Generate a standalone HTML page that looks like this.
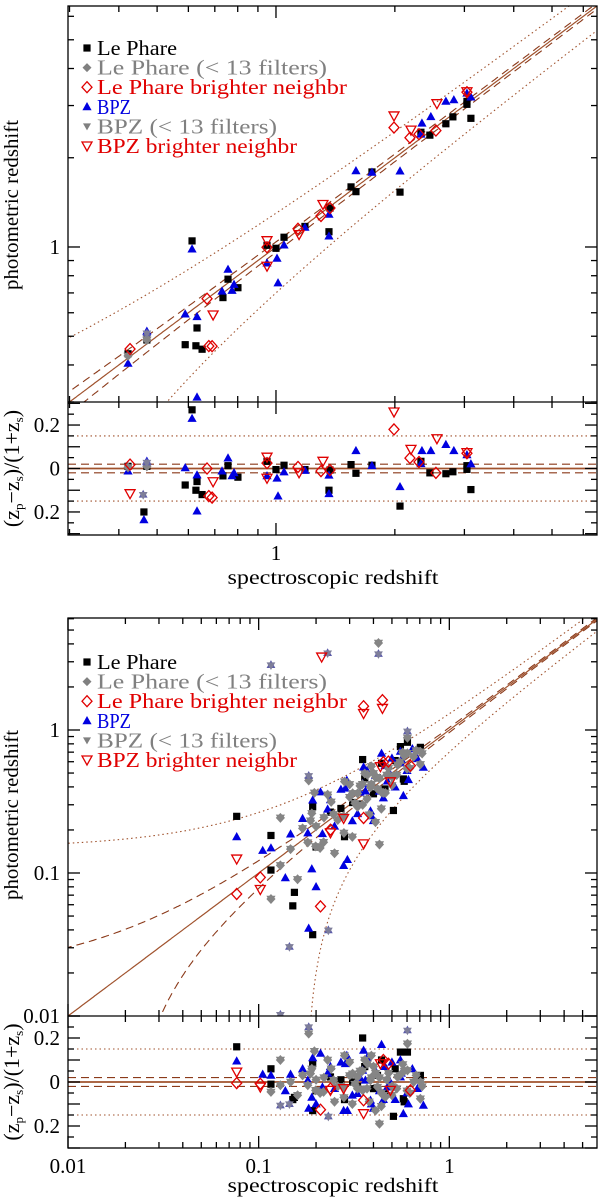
<!DOCTYPE html>
<html><head><meta charset="utf-8"><style>
html,body{margin:0;padding:0;background:#fff;overflow:hidden;width:600px;height:1203px;}
svg{display:block;font-family:"Liberation Serif",serif;overflow:hidden;}
</style></head><body>
<svg id="chart" width="600" height="1203" viewBox="0 0 600 1203" xmlns="http://www.w3.org/2000/svg">
<defs>
<clipPath id="c1"><rect x="68" y="6" width="529" height="396"/></clipPath>
<clipPath id="c2"><rect x="68" y="402" width="529" height="133"/></clipPath>
<clipPath id="c3"><rect x="68" y="618" width="529" height="398"/></clipPath>
<clipPath id="c4"><rect x="68" y="1016" width="529" height="132"/></clipPath>
</defs>
<g id="layer"></g>
</svg>
<script>
// ===== Top panel data (spectroscopic z, residual dz=(zp-zs)/(1+zs)) =====
var t_lp_zs = [0.422,0.471,0.463,0.589,0.613,0.631,0.627,0.650,0.734,0.756,0.801,0.949,1.0,1.048,1.184,1.362,1.370,1.549,1.594,1.750,2.061,2.328,2.453,2.693,2.805,3.045,3.116,3.045];
var t_lp_dz = [0.01,0.01,-0.2,-0.076,0.27,-0.06,-0.10,-0.12,-0.034,0.013,-0.04,0.033,-0.005,0.015,-0.005,-0.10,-0.007,0.018,-0.022,0.015,-0.173,0.033,-0.02,-0.024,-0.015,-0.004,-0.097,0.013];
var t_bpz_zs = [0.422,0.471,0.463,0.589,0.613,0.631,0.631,0.730,0.756,0.774,0.783,0.949,1.006,1.012,1.048,1.184,1.362,1.362,1.594,1.750,2.061,2.328,2.342,2.467,2.693,2.821,3.045,3.116];
var t_bpz_dz = [-0.012,0.033,-0.236,0.003,0.23,-0.03,-0.196,-0.012,0.048,-0.034,-0.02,-0.034,-0.045,-0.127,-0.016,-0.009,-0.031,-0.116,0.082,0.013,-0.084,0.022,0.082,0.082,0.11,0.082,0.063,0.021];
var t_lpn_zs = [0.427,0.669,0.676,0.689,0.949,1.137,1.300,1.370,1.990,2.184,2.302,2.541,3.045];
var t_lpn_dz = [0.018,0,-0.127,-0.134,0.025,0.007,-0.012,-0.007,0.18,0.048,0.03,-0.02,0.07];
var t_bpzn_zs = [0.427,0.693,0.949,0.949,1.144,1.315,1.990,2.197,2.556,3.045];
var t_bpzn_dz = [-0.116,-0.061,0.052,-0.045,-0.02,0.033,0.26,0.088,0.137,0.073];
var t_gray_zs = [0.422,0.471];
var t_gray_dz = [0.005,0.01];
var t_star_zs = [0.461,0.471];
var t_star_dz = [-0.12,0.028];
// ===== Bottom panel data =====
var b_lp_zs = [0.0767,0.116,0.116,0.151,0.154,0.192,0.192,0.351,0.282,0.311,0.554,0.603,0.509,0.705,0.574,0.441,0.400,0.238,0.27,0.33,0.42,0.46,0.52,0.58,0.2,0.36];
var b_lp_dz = [0.16,0.06,-0.01,-0.08,-0.07,0.083,-0.13,0.2,-0.08,0,0.136,0.136,-0.156,0.03,-0.076,0.1,-0.03,0.023,0.01,-0.02,0.03,-0.05,0.06,-0.09,-0.04,0.07];
var b_bpz_zs = [0.0767,0.105,0.116,0.138,0.147,0.183,0.192,0.211,0.238,0.279,0.292,0.285,0.355,0.351,0.386,0.441,0.554,0.574,0.610,0.731,0.554,0.451,0.330,0.216,0.181,0.473,0.363,0.17,0.19,0.23,0.25,0.27,0.31,0.34,0.37,0.39,0.41,0.43,0.46,0.49,0.52,0.56,0.6,0.64,0.68,0.2,0.29,0.4,0.5];
var b_bpz_dz = [0.095,0.035,0.03,-0.04,0.035,-0.12,0.11,0.13,0.07,-0.13,-0.13,0.083,0.144,0.053,-0.083,0.17,0.1,-0.144,-0.1,-0.106,0.023,-0.08,-0.053,-0.023,0.008,-0.023,0.008,0.06,-0.07,0.04,-0.03,0.09,-0.06,0.02,0.11,-0.1,0.05,-0.04,0.07,0.0,-0.08,0.04,-0.05,0.06,-0.03,-0.1,0.12,-0.12,0.09];
var b_gray_zs = [0.130,0.130,0.116,0.147,0.183,0.196,0.181,0.199,0.219,0.282,0.279,0.330,0.351,0.386,0.420,0.430,0.410,0.462,0.603,0.603,0.705,0.705,0.535,0.311,0.247,0.372,0.187,0.2,0.26,0.3,0.32,0.34,0.37,0.39,0.41,0.44,0.47,0.5,0.55,0.6,0.65,0.16,0.22,0.425,0.17,0.21,0.24,0.28,0.3,0.33,0.35,0.38,0.4,0.43,0.45,0.48,0.53,0.57,0.62,0.67,0.72,0.25,0.36,0.44,0.5,0.58,0.19,0.23,0.31,0.39];
var b_gray_dz = [0.1,-0.015,-0.045,0,0.22,0.14,-0.015,-0.038,-0.045,0.12,-0.023,0.023,-0.038,0.008,-0.023,-0.19,-0.13,-0.068,0.174,0.053,-0.076,0,0.023,0.038,0.008,0.083,0.038,0.01,-0.02,0.03,-0.01,0.05,-0.03,0.02,0.04,-0.05,0.01,-0.02,0.03,-0.04,0.0,-0.06,0.02,2.55,0.03,-0.05,0.06,-0.07,0.09,-0.03,0.05,-0.09,0.07,0.02,-0.06,0.04,-0.03,0.08,-0.05,0.03,-0.02,-0.09,0.1,-0.11,-0.06,0.05,0.06,0.1,-0.1,0.12];
var b_star_zs = [0.130,0.183,0.232,0.603,0.116,0.230,0.425,0.145];
var b_star_dz = [-0.106,0.25,-0.156,0.235,2.45,2.62,2.09,-0.1];
var b_lpn_zs = [0.0767,0.102,0.211,0.355,0.479,0.451,0.238,0.625,0.355,0.446];
var b_lpn_dz = [-0.005,-0.008,-0.126,-0.083,0.083,0.1,-0.03,-0.038,0.82,0.81];
var b_bpzn_zs = [0.0767,0.102,0.238,0.355,0.279,0.491,0.435,0.214,0.355,0.446];
var b_bpzn_dz = [0.045,-0.023,-0.038,-0.144,-0.03,-0.038,0.083,2.49,0.70,0.67];
var legendLabels = ["Le Phare","Le Phare (< 13 filters)","Le Phare brighter neighbr","BPZ","BPZ (< 13 filters)","BPZ brighter neighbr"];
var legendColors = ["#000","#808080","#e00000","#0000e0","#808080","#e00000"];

var NS="http://www.w3.org/2000/svg";
var layer=document.getElementById('layer');
function el(tag,attrs,parent){var e=document.createElementNS(NS,tag);for(var k in attrs)e.setAttribute(k,attrs[k]);(parent||layer).appendChild(e);return e;}
function logScale(d0,d1,r0,r1){var a=Math.log10(d0),b=Math.log10(d1);return function(v){return r0+(Math.log10(v)-a)/(b-a)*(r1-r0);};}
function linScale(d0,d1,r0,r1){return function(v){return r0+(v-d0)/(d1-d0)*(r1-r0);};}

var panels=[
 {x0:68,x1:597,y0:6,y1:402,clip:'c1',X:logScale(0.3,6.5,69.5,597),Y:logScale(0.3,6.5,402,6),R:linScale(-0.306,0.306,535,402),ry0:402,ry1:535,rclip:'c2',dmin:0.3,dmax:6.5,name:'top'},
 {x0:68,x1:597,y0:618,y1:1016,clip:'c3',X:logScale(0.01,5.95,68,597),Y:logScale(0.01,6.07,1016,618),R:linScale(-0.3,0.3,1148,1016),ry0:1016,ry1:1148,rclip:'c4',dmin:0.01,dmax:6.07,name:'bottom'}
];
var brown='#a0522d',dbrown='#8b3a1a';

function refLines(p){
  var g=el('g',{'clip-path':'url(#'+p.clip+')'});
  
  
  var specs=[[0,brown,'',1.2],[0.02,dbrown,'8,5',1.1],[-0.02,dbrown,'8,5',1.1],[0.15,brown,'1.5,3',1.1],[-0.15,brown,'1.5,3',1.1]];
  specs.forEach(function(s){
    var pts=[];
    for(var i=0;i<=400;i++){var z=Math.pow(10,Math.log10(p.dmin*0.95)+i/400*(Math.log10(p.dmax*1.05)-Math.log10(p.dmin*0.95)));
      var zp=z+s[0]*(1+z); if(zp<=1e-5) continue;
      var yy=p.Y(zp); if(yy<p.y0-20||yy>p.y1+20) continue;
      pts.push(Math.max(p.x0-5,Math.min(p.x1+5,p.X(z))).toFixed(1)+','+yy.toFixed(1));}
    var l=el('polyline',{points:pts.join(' '),fill:'none',stroke:s[1],'stroke-width':s[3],'stroke-dasharray':s[2]},g);
    
    
  });
  var g2=el('g',{'clip-path':'url(#'+p.rclip+')'});
  
  
  specs.forEach(function(s){
    var l=el('line',{x1:p.x0,x2:p.x1,y1:p.R(s[0]),y2:p.R(s[0]),stroke:s[1],'stroke-width':s[3]+(s[0]===0?0.6:0),'stroke-dasharray':s[2]},g2);
    
    
  });
}

function marker(type,x,y,g){
  var e;
  if(type==='sq'){e=el('rect',{x:x-3.6,y:y-3.6,width:7.2,height:7.2,fill:'#000'},g);}
  else if(type==='tri'){e=el('polygon',{points:(x)+','+(y-4.8)+' '+(x-4.6)+','+(y+3.4)+' '+(x+4.6)+','+(y+3.4),fill:'#0000e0'},g);}
  else if(type==='dia'){e=el('polygon',{points:x+','+(y-5.5)+' '+(x+5)+','+y+' '+x+','+(y+5.5)+' '+(x-5)+','+y,fill:'none',stroke:'#e00000','stroke-width':1.3},g);}
  else if(type==='dtri'){e=el('polygon',{points:(x-5)+','+(y-4)+' '+(x+5)+','+(y-4)+' '+x+','+(y+5),fill:'none',stroke:'#e00000','stroke-width':1.3},g);}
  else if(type==='gray'){e=el('g',{},g);
    el('polygon',{points:x+','+(y-5)+' '+(x+4.6)+','+y+' '+x+','+(y+5)+' '+(x-4.6)+','+y,fill:'#858585'},e);
    el('polygon',{points:(x-4.6)+','+(y-3.2)+' '+(x+4.6)+','+(y-3.2)+' '+x+','+(y+4.8),fill:'#858585'},e);}
  else if(type==='star'){e=el('g',{},g);
    el('polygon',{points:(x)+','+(y-4.8)+' '+(x-4.4)+','+(y+3)+' '+(x+4.4)+','+(y+3),fill:'#5c5ca8'},e);
    el('polygon',{points:(x-4.4)+','+(y-2.6)+' '+(x+4.4)+','+(y-2.6)+' '+x+','+(y+5),fill:'#7e7e9a'},e);}
  return e;
}

function series(p,type,zs,dz,label){
  var g=el('g',{'clip-path':'url(#'+p.clip+')'});
  
  
  var g2=el('g',{'clip-path':'url(#'+p.rclip+')'});
  
  
  for(var i=0;i<zs.length;i++){
    var zp=zs[i]+dz[i]*(1+zs[i]);
    if(zp>0){var yy=p.Y(zp);
      if(yy>p.y0-6&&yy<p.y1+6){var m=marker(type,p.X(zs[i]),yy,g);
      
      }}
    var ry=p.R(dz[i]);
    if(ry>p.ry0-6&&ry<p.ry1+6){var r=marker(type,p.X(zs[i]),ry,g2);
    
    }
  }
}

function axes(p){
  var g=el('g',{stroke:'#000','stroke-width':1.3,fill:'none'});
  
  
  el('rect',{x:p.x0,y:p.y0,width:p.x1-p.x0,height:p.ry1-p.y0},g);
  el('line',{x1:p.x0,x2:p.x1,y1:p.y1,y2:p.y1},g);
  var d0=Math.floor(Math.log10(p.dmin)),d1=Math.ceil(Math.log10(p.dmax));
  for(var d=d0;d<=d1;d++)for(var m=1;m<=9;m++){
    var v=m*Math.pow(10,d); if(v<p.dmin*0.999||v>p.dmax*1.001)continue;
    var L=(m===1)?12:6,x=p.X(v),y=p.Y(v);
    if(x>=p.x0-0.5&&x<=p.x1+0.5){
      el('line',{x1:x,x2:x,y1:p.y0,y2:p.y0+L},g);
      el('line',{x1:x,x2:x,y1:p.y1,y2:p.y1-L},g);
      el('line',{x1:x,x2:x,y1:p.y1,y2:p.y1+L},g);
      el('line',{x1:x,x2:x,y1:p.ry1,y2:p.ry1-L},g);}
    if(y>=p.y0-0.5&&y<=p.y1+0.5){
      el('line',{x1:p.x0,x2:p.x0+L,y1:y,y2:y},g);
      el('line',{x1:p.x1,x2:p.x1-L,y1:y,y2:y},g);}
  }
  for(var k=-6;k<=6;k++){var r=k*0.05,y2=p.R(r); if(y2<p.ry0||y2>p.ry1)continue;
    var L2=(k%2===0)?12:6;
    el('line',{x1:p.x0,x2:p.x0+L2,y1:y2,y2:y2},g);
    el('line',{x1:p.x1,x2:p.x1-L2,y1:y2,y2:y2},g);}
}

function txt(s,attrs,name){var t=el('text',attrs);t.textContent=s;
  
  return t;}

function labels(p,ylabels,xlabels,ycenter,xlabY){
  ylabels.forEach(function(v){txt(String(v),{x:p.x0-8,y:p.Y(v)+7,'text-anchor':'end','font-size':21},'y-tick-label');});
  xlabels.forEach(function(v){txt(String(v),{x:p.X(v),y:p.ry1+25,'text-anchor':'middle','font-size':21},'x-tick-label');});
  [0.2,0,-0.2].forEach(function(v){txt(v===0?'0':'0.2',{x:p.x0-8,y:p.R(v)+7,'text-anchor':'end','font-size':21},'residual-tick-label');});
  txt('spectroscopic redshift',{x:333,y:xlabY,'text-anchor':'middle','font-size':20,textLength:211,lengthAdjust:'spacingAndGlyphs'},'x-axis-title');
  txt('photometric redshift',{x:0,y:0,transform:'translate(18,'+ycenter+') rotate(-90)','text-anchor':'middle','font-size':20,textLength:170,lengthAdjust:'spacingAndGlyphs'},'y-axis-title');
  var rc=(p.ry0+p.ry1)/2;
  var t=el('text',{transform:'translate(19,'+rc+') rotate(-90)','text-anchor':'middle','font-size':22});
  
  
  t.innerHTML='(z<tspan font-size="13" dy="4">p</tspan><tspan dy="-4">−z</tspan><tspan font-size="13" dy="4">s</tspan><tspan dy="-4">)/(1+z</tspan><tspan font-size="13" dy="4">s</tspan><tspan dy="-4">)</tspan>';
}

function legend(p,y0){
  var g=el('g',{});
  
  
  var types=['sq','gray','dia','tri','gtri','dtri'];
  for(var i=0;i<legendLabels.length;i++){
    var y=y0+i*19.6,x=87;
    if(types[i]==='gtri'){el('polygon',{points:(x-4)+','+(y-3)+' '+(x+4)+','+(y-3)+' '+x+','+(y+4),fill:'#808080'},g);}
    else if(types[i]==='gray'){el('polygon',{points:x+','+(y-4.5)+' '+(x+4.5)+','+y+' '+x+','+(y+4.5)+' '+(x-4.5)+','+y,fill:'#808080'},g);}
    else {marker(types[i],x,y,g);}
    var w=legendLabels[i].length*10; if(legendLabels[i]==='BPZ') w=34;
    var t=el('text',{x:97,y:y+7,'font-size':21,fill:legendColors[i],textLength:w,lengthAdjust:'spacingAndGlyphs'},g);
    t.textContent=legendLabels[i];
    
    
  }
}

var sets=[
 [t_lp_zs,t_lp_dz,t_gray_zs,t_gray_dz,t_lpn_zs,t_lpn_dz,t_bpz_zs,t_bpz_dz,t_star_zs,t_star_dz,t_bpzn_zs,t_bpzn_dz],
 [b_lp_zs,b_lp_dz,b_gray_zs,b_gray_dz,b_lpn_zs,b_lpn_dz,b_bpz_zs,b_bpz_dz,b_star_zs,b_star_dz,b_bpzn_zs,b_bpzn_dz]
];
panels.forEach(function(p,i){
  refLines(p);
  var s=sets[i];
  series(p,'sq',s[0],s[1],'lephare');
  series(p,'tri',s[6],s[7],'bpz');
  series(p,'gray',s[2],s[3],'lephare-lt13');
  series(p,'star',s[8],s[9],'bpz-lt13');
  series(p,'dia',s[4],s[5],'lephare-neighbr');
  series(p,'dtri',s[10],s[11],'bpz-neighbr');
  axes(p);
});
labels(panels[0],[1],[1],205,584);
labels(panels[1],[1,0.1,0.01],[0.01,0.1,1],815,1192);
legend(panels[0],48);
legend(panels[1],662);
</script>
</body></html>
